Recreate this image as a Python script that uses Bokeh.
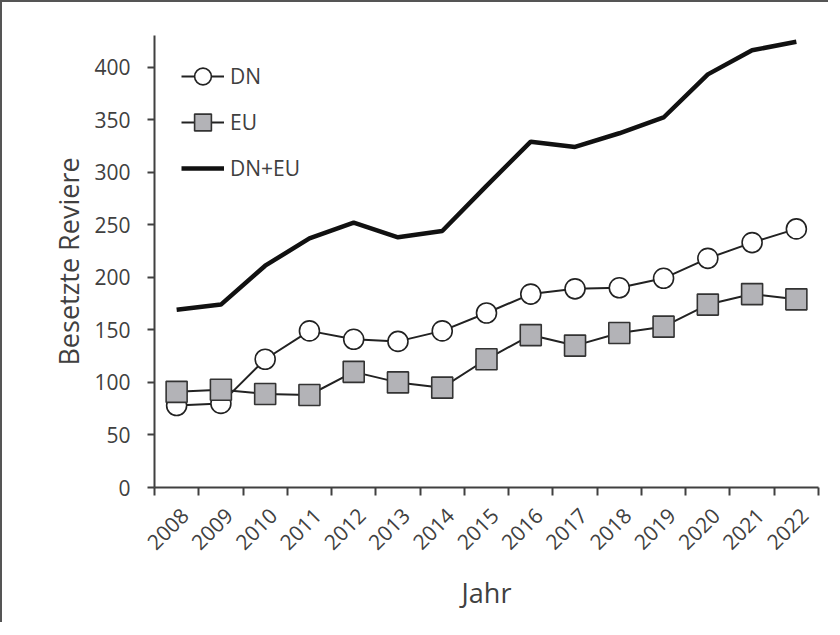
import numpy as np
from bokeh.plotting import figure
from bokeh.models import Range1d, FixedTicker, Legend, LegendItem
from bokeh.embed import file_html
from bokeh.resources import INLINE

years = ["2008", "2009", "2010", "2011", "2012", "2013", "2014", "2015",
         "2016", "2017", "2018", "2019", "2020", "2021", "2022"]
dn = [78, 80, 122, 149, 141, 139, 149, 166, 184, 189, 190, 199, 218, 233, 246]
eu = [91, 93, 89, 88, 110, 100, 95, 122, 145, 135, 147, 153, 174, 184, 179]
dn_eu = [169, 174, 211, 237, 252, 238, 244, 287, 329, 324, 337, 352, 393, 416, 424]
y_ticks = [0, 50, 100, 150, 200, 250, 300, 350, 400]

FONT = "Open Sans"
TXT = "#404040"

x = np.arange(len(years)) + 0.5
label_pos = x + 0.18  # rotated labels end slightly right of category centre

p = figure(width=828, height=622, output_backend="svg", toolbar_location=None,
           x_range=Range1d(0, len(years)), y_range=Range1d(0, 430),
           min_border_left=152, min_border_right=12, min_border_top=33, min_border_bottom=137,
           styles={"border-left": "2px solid #555555", "border-top": "2px solid #555555"})
p.outline_line_color = None
p.xgrid.visible = False
p.ygrid.visible = False
p.background_fill_color = "white"
p.border_fill_color = "white"

r_tot = p.line(x, dn_eu, line_color="#111111", line_width=4.5)
r_dn_l = p.line(x, dn, line_color="#222222", line_width=2)
r_dn_m = p.scatter(x, dn, marker="circle", size=20, fill_color="white",
                   line_color="#222222", line_width=1.6)
r_eu_l = p.line(x, eu, line_color="#222222", line_width=2)
r_eu_m = p.scatter(x, eu, marker="square", size=21, fill_color="#b3b3b7",
                   line_color="#333333", line_width=1.6)

# axes
xa = p.xaxis[0]
xa.ticker = FixedTicker(ticks=list(label_pos), minor_ticks=list(range(len(years) + 1)))
xa.major_label_overrides = {float(v): years[i] for i, v in enumerate(label_pos)}
xa.major_tick_line_color = None
xa.major_tick_out = 7
xa.major_tick_in = 0
xa.minor_tick_out = 8
xa.minor_tick_in = 0
xa.minor_tick_line_color = "#404040"
xa.minor_tick_line_width = 2
xa.major_label_orientation = np.pi / 4
xa.major_label_standoff = 16
xa.axis_label = "Jahr"
xa.axis_label_standoff = 14

ya = p.yaxis[0]
ya.ticker = FixedTicker(ticks=y_ticks)
ya.minor_tick_line_color = None
ya.major_tick_out = 7
ya.major_tick_in = 0
ya.major_tick_line_width = 2
ya.major_tick_line_color = "#404040"
ya.major_label_standoff = 17
ya.axis_label = "Besetzte Reviere"
ya.axis_label_standoff = 4

for ax in (xa, ya):
    ax.axis_line_color = "#404040"
    ax.axis_line_width = 2
    ax.major_label_text_font = FONT
    ax.major_label_text_font_size = "21px"
    ax.major_label_text_color = TXT
    ax.axis_label_text_font = FONT
    ax.axis_label_text_font_size = "27px"
    ax.axis_label_text_font_style = "normal"
    ax.axis_label_text_color = TXT

legend = Legend(items=[
    LegendItem(label="DN", renderers=[r_dn_l, r_dn_m]),
    LegendItem(label="EU", renderers=[r_eu_l, r_eu_m]),
    LegendItem(label="DN+EU", renderers=[r_tot]),
], location=(27, 298))
legend.margin = 0
legend.padding = 4
legend.glyph_width = 43
legend.glyph_height = 42
legend.label_height = 42
legend.spacing = 4
legend.label_standoff = 6
legend.label_text_font = FONT
legend.label_text_font_size = "21px"
legend.label_text_color = TXT
legend.background_fill_alpha = 0
legend.border_line_color = None
p.add_layout(legend)

open("out.html", "w").write(file_html(p, INLINE))
